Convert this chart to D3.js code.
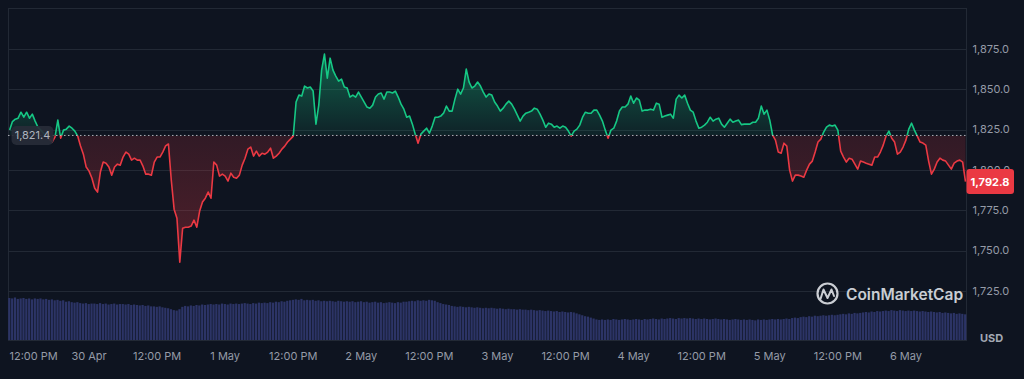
<!DOCTYPE html>
<html><head><meta charset="utf-8">
<script src="https://cdn.jsdelivr.net/npm/d3@7"></script>
<style>
html,body{margin:0;padding:0;background:#0e1420;overflow:hidden}
svg{display:block}
text{font-family:Inter,"Noto Sans",Roboto,sans-serif}
</style>
</head><body>
<svg id="c" width="1024" height="379"></svg>
<script>
// ---- data ----
const priceStart = "2023-04-29T10:00:00Z";
const stepMinutes = 30;
const baselineValue = 1821.4;
const prices = [
1824.7,1830.0,1831.5,1832.1,1835.8,1832.7,1835.8,1832.1,1834.6,1830.3,1826.5,1824.7,1822.8,1821.0,1819.1,1817.3,1820.4,1830.9,1819.7,1824.7,
1825.3,1827.2,1825.9,1824.1,1821.0,1814.8,1809.8,1801.8,1799.3,1795.0,1788.7,1786.3,1798.7,1804.9,1804.2,1801.8,1796.8,1801.8,1803.6,1803.0,
1808.0,1811.1,1809.8,1806.1,1807.3,1806.1,1806.1,1802.4,1797.4,1797.4,1796.8,1804.9,1808.0,1808.0,1811.1,1814.9,1816.1,1793.7,1775.7,1770.1,
1742.9,1763.9,1764.5,1764.5,1765.2,1768.9,1764.5,1774.5,1780.1,1782.5,1786.3,1782.5,1804.9,1803.0,1796.2,1797.4,1796.2,1793.1,1798.0,1795.5,
1794.9,1796.8,1803.0,1807.3,1812.9,1814.2,1808.6,1811.7,1808.6,1810.4,1809.8,1811.1,1813.5,1807.3,1808.6,1810.4,1812.9,1814.8,1817.3,1819.1,
1821.0,1842.1,1846.4,1845.8,1852.0,1850.8,1851.4,1849.0,1828.4,1840.2,1861.9,1871.8,1856.9,1869.3,1861.9,1858.2,1855.1,1856.3,1851.4,1850.8,
1845.2,1846.4,1845.2,1848.3,1845.2,1842.1,1839.0,1838.3,1840.2,1845.2,1847.1,1847.7,1843.9,1848.3,1848.3,1847.7,1848.9,1845.2,1840.8,1837.7,
1832.7,1833.4,1828.4,1822.2,1816.6,1822.2,1824.1,1825.9,1822.8,1827.2,1832.7,1832.7,1833.4,1835.2,1839.6,1836.5,1836.5,1843.9,1850.1,1847.0,
1850.8,1862.5,1854.5,1850.8,1852.0,1854.5,1852.0,1848.3,1845.2,1847.1,1846.4,1842.1,1839.6,1836.5,1838.3,1840.8,1842.7,1840.8,1837.7,1834.0,
1830.3,1833.4,1835.2,1835.8,1836.5,1838.3,1837.7,1834.6,1830.9,1826.5,1829.0,1828.4,1826.5,1827.2,1825.9,1827.2,1826.5,1824.1,1821.0,1824.1,
1825.3,1827.8,1832.7,1835.8,1835.2,1835.2,1837.1,1837.1,1834.0,1830.3,1824.7,1819.7,1824.7,1825.9,1830.3,1836.5,1839.0,1839.0,1840.8,1845.8,
1841.4,1844.6,1843.3,1836.5,1837.1,1837.1,1837.7,1837.1,1841.4,1840.8,1832.7,1833.4,1834.0,1834.6,1832.1,1843.9,1846.4,1844.6,1846.4,1841.4,
1837.1,1835.8,1830.3,1825.9,1826.5,1827.8,1829.6,1832.7,1830.3,1831.5,1832.1,1828.4,1826.5,1829.0,1831.5,1829.6,1830.3,1830.9,1828.1,1828.4,
1828.4,1828.4,1829.6,1829.6,1832.1,1839.6,1834.6,1837.1,1830.9,1821.6,1818.5,1811.1,1810.4,1816.6,1814.8,1799.9,1793.1,1796.8,1796.8,1796.2,
1795.5,1799.9,1803.6,1805.5,1811.1,1817.3,1819.1,1823.5,1826.5,1827.8,1827.2,1827.8,1824.7,1811.7,1808.0,1804.9,1807.3,1806.7,1803.6,1800.5,
1805.5,1804.9,1804.2,1803.6,1803.0,1808.0,1808.0,1811.1,1815.4,1821.0,1824.1,1819.7,1817.3,1809.8,1811.1,1814.2,1818.5,1825.3,1829.0,1824.7,
1821.0,1817.3,1816.7,1815.4,1805.5,1797.4,1800.5,1804.9,1807.3,1806.1,1805.5,1803.0,1800.5,1804.2,1805.5,1806.1,1804.9,1792.8
];
// volume (billions USD)
const volumes = [
9.0,8.9,9.1,8.8,8.9,9.0,8.8,8.9,8.7,8.9,8.8,8.9,8.7,8.8,8.6,8.7,8.5,8.6,8.4,8.5,
8.2,8.3,8.1,8.0,8.1,7.9,7.8,7.9,7.7,7.8,7.8,7.7,7.9,7.7,7.8,7.6,7.7,7.8,7.6,7.7,
7.7,7.6,7.7,7.5,7.6,7.5,7.4,7.5,7.3,7.4,7.2,7.2,7.1,7.2,7.0,6.9,6.8,6.6,6.4,6.3,
6.6,7.1,7.3,7.2,7.4,7.3,7.5,7.4,7.6,7.5,7.6,7.7,7.6,7.7,7.6,7.8,7.7,7.6,7.8,7.7,
7.8,7.7,7.8,7.9,7.8,7.7,7.9,7.8,8.0,7.9,8.0,7.9,8.1,8.0,8.2,8.1,8.3,8.2,8.4,8.5,
8.6,8.7,8.6,8.8,8.5,8.6,8.5,8.6,8.4,8.5,8.3,8.4,8.3,8.4,8.3,8.2,8.4,8.3,8.2,8.3,
8.2,8.3,8.1,8.2,8.3,8.1,8.2,8.0,8.1,8.2,8.0,8.1,7.9,8.0,8.1,8.0,7.9,8.1,8.0,8.2,
8.2,8.3,8.4,8.3,8.5,8.4,8.5,8.4,8.6,8.5,8.4,8.1,7.9,7.7,7.6,7.5,7.3,7.2,7.1,7.2,
7.1,7.0,7.1,7.0,6.9,7.0,6.9,6.8,6.9,6.8,6.9,6.8,6.7,6.8,6.7,6.6,6.7,6.6,6.6,6.5,
6.6,6.5,6.5,6.4,6.5,6.4,6.3,6.4,6.3,6.2,6.3,6.2,6.1,6.2,6.0,6.1,6.0,5.9,6.0,5.9,
5.7,5.5,5.3,5.1,5.0,4.8,4.6,4.4,4.3,4.4,4.3,4.4,4.3,4.5,4.4,4.3,4.4,4.5,4.4,4.3,
4.4,4.5,4.4,4.3,4.5,4.4,4.5,4.6,4.5,4.4,4.6,4.5,4.6,4.7,4.6,4.5,4.7,4.6,4.7,4.6,
4.7,4.6,4.5,4.6,4.5,4.6,4.5,4.4,4.5,4.6,4.5,4.4,4.5,4.4,4.3,4.4,4.5,4.4,4.3,4.4,
4.3,4.4,4.3,4.2,4.4,4.3,4.4,4.3,4.4,4.5,4.4,4.5,4.4,4.5,4.6,4.5,4.7,4.8,4.7,4.9,
5.0,4.9,5.1,5.0,5.2,5.1,5.2,5.3,5.2,5.3,5.4,5.3,5.4,5.5,5.6,5.5,5.7,5.6,5.8,5.7,
5.8,5.9,6.0,5.9,6.1,6.0,6.2,6.1,6.2,6.3,6.2,6.4,6.3,6.2,6.4,6.3,6.2,6.3,6.2,6.3,
6.2,6.1,6.2,6.1,6.0,6.1,6.0,5.9,6.0,5.8,5.9,5.8,5.7,5.8,5.6,5.7,5.6,5.5
];
const yTicks = [1725, 1750, 1775, 1800, 1825, 1850, 1875];
const xDomain = [new Date("2023-04-29T09:43:00Z"), new Date("2023-05-06T10:46:00Z")];
const yDomain = [1694.6, 1900.4];
const volDomain = [0, 10];
const currencyLabel = "USD";
const brandName = "CoinMarketCap";

// ---- layout ----
const W = 1024, H = 379;
const L = 8, R = 967, T = 8, B = 340;
const GREEN = "#16c784", RED = "#ea3943";
const AXIS = "#959ba7";

const svg = d3.select("#c");
svg.append("rect").attr("width", W).attr("height", H).attr("fill", "#0e1420");

const x = d3.scaleUtc().domain(xDomain).range([L, R]);
const y = d3.scaleLinear().domain(yDomain).range([B, T]);
const yv = d3.scaleLinear().domain(volDomain).range([B, B - 46.7]);

const t0 = new Date(priceStart).getTime();
const data = prices.map((p, i) => ({ t: new Date(t0 + i * stepMinutes * 60000), p, v: volumes[i] }));
const by = y(baselineValue);

const defs = svg.append("defs");
defs.append("clipPath").attr("id", "plot").append("rect")
  .attr("x", L).attr("y", T).attr("width", R - L).attr("height", B - T);
defs.append("clipPath").attr("id", "above").append("rect")
  .attr("x", L).attr("y", T).attr("width", R - L).attr("height", by - T);
defs.append("clipPath").attr("id", "below").append("rect")
  .attr("x", L).attr("y", by).attr("width", R - L).attr("height", B - by);

const pMax = d3.max(prices), pMin = d3.min(prices);
const gG = defs.append("linearGradient").attr("id", "gGreen")
  .attr("gradientUnits", "userSpaceOnUse").attr("x1", 0).attr("x2", 0)
  .attr("y1", y(pMax)).attr("y2", by);
gG.append("stop").attr("offset", 0).attr("stop-color", GREEN).attr("stop-opacity", 0.42);
gG.append("stop").attr("offset", 1).attr("stop-color", GREEN).attr("stop-opacity", 0.08);
const gR = defs.append("linearGradient").attr("id", "gRed")
  .attr("gradientUnits", "userSpaceOnUse").attr("x1", 0).attr("x2", 0)
  .attr("y1", by).attr("y2", y(pMin));
gR.append("stop").attr("offset", 0).attr("stop-color", RED).attr("stop-opacity", 0.16);
gR.append("stop").attr("offset", 1).attr("stop-color", RED).attr("stop-opacity", 0.30);

// grid
svg.append("g").selectAll("line").data(yTicks).join("line")
  .attr("x1", L).attr("x2", R)
  .attr("y1", d => Math.round(y(d)) + 0.5).attr("y2", d => Math.round(y(d)) + 0.5)
  .attr("stroke", "#222935").attr("stroke-width", 1);

// frame
svg.append("rect").attr("x", L + 0.5).attr("y", T + 0.5).attr("width", R - L - 1).attr("height", B - T)
  .attr("fill", "none").attr("stroke", "#222935");

// volume bars
const step = x(data[1].t) - x(data[0].t);
svg.append("g").attr("clip-path", "url(#plot)").selectAll("rect").data(data).join("rect")
  .attr("x", d => x(d.t) - step / 2)
  .attr("width", step * 0.78)
  .attr("y", d => yv(d.v))
  .attr("height", d => B - yv(d.v))
  .attr("fill", "#2c3466");

// areas
const area = d3.area().x(d => x(d.t)).y0(by).y1(d => y(d.p));
const line = d3.line().x(d => x(d.t)).y(d => y(d.p));
const pg = svg.append("g").attr("clip-path", "url(#plot)");
pg.append("path").datum(data).attr("d", area).attr("fill", "url(#gGreen)").attr("clip-path", "url(#above)");
pg.append("path").datum(data).attr("d", area).attr("fill", "url(#gRed)").attr("clip-path", "url(#below)");

// baseline dotted
svg.append("line").attr("x1", L).attr("x2", R).attr("y1", by).attr("y2", by)
  .attr("stroke", "#c9cdd4").attr("stroke-width", 1).attr("stroke-dasharray", "1.5,2.5").attr("opacity", 0.85);

// price line
pg.append("path").datum(data).attr("d", line).attr("fill", "none").attr("stroke", GREEN)
  .attr("stroke-width", 1.6).attr("stroke-linejoin", "round").attr("clip-path", "url(#above)");
pg.append("path").datum(data).attr("d", line).attr("fill", "none").attr("stroke", RED)
  .attr("stroke-width", 1.6).attr("stroke-linejoin", "round").attr("clip-path", "url(#below)");

// baseline label
const fmt = d3.format(",.1f");
svg.append("rect").attr("x", 11.5).attr("y", by - 9.5).attr("width", 42).attr("height", 19).attr("rx", 5)
  .attr("fill", "#272d38").attr("opacity", 0.92);
svg.append("text").attr("x", 32.5).attr("y", by).attr("dy", "0.35em").attr("text-anchor", "middle")
  .attr("font-size", 11).attr("fill", "#aeb4be").text(fmt(baselineValue));

// y axis labels
svg.append("g").selectAll("text").data(yTicks).join("text")
  .attr("x", 972.5).attr("y", d => y(d)).attr("dy", "0.35em")
  .attr("font-size", 11).attr("fill", AXIS).text(d => fmt(d));

// current price tag
const last = data[data.length - 1];
const ly = y(last.p);
svg.append("rect").attr("x", 966.5).attr("y", ly - 12.5).attr("width", 47.5).attr("height", 25).attr("rx", 3)
  .attr("fill", RED);
svg.append("text").attr("x", 990).attr("y", ly).attr("dy", "0.36em").attr("text-anchor", "middle")
  .attr("font-size", 11).attr("font-weight", 700).attr("fill", "#ffffff").text(fmt(last.p));

// x axis labels
const xTicks = x.ticks(d3.utcHour.every(12));
const fmtDay = d3.utcFormat("%-d %b"), fmtHour = d3.utcFormat("%-I:%M %p");
const xl = svg.append("g").selectAll("text").data(xTicks).join("text")
  .attr("x", d => x(d)).attr("y", 359.5).attr("text-anchor", "middle")
  .attr("font-size", 11).attr("fill", AXIS)
  .text(d => d.getUTCHours() === 0 ? fmtDay(d) : fmtHour(d));
xl.each(function (d) {
  const w = this.getComputedTextLength();
  const cx = x(d);
  if (cx - w / 2 < L + 1.5) d3.select(this).attr("text-anchor", "start").attr("x", L + 1.5);
});

// currency
svg.append("text").attr("x", 991.5).attr("y", 338).attr("dy", "0.35em").attr("text-anchor", "middle")
  .attr("font-size", 11).attr("font-weight", 700).attr("fill", "#a3a9b4").text(currencyLabel);

// watermark
const wm = svg.append("g").attr("opacity", 0.9);
wm.append("circle").attr("cx", 827.5).attr("cy", 293.5).attr("r", 10).attr("fill", "none")
  .attr("stroke", "#dfe2e7").attr("stroke-width", 2.2);
wm.append("path").attr("d", "M820.5,299 L823.5,289.5 L827.5,298 L831.5,289.5 L834,296")
  .attr("fill", "none").attr("stroke", "#dfe2e7").attr("stroke-width", 2).attr("stroke-linejoin", "round").attr("stroke-linecap", "round");
wm.append("text").attr("x", 846).attr("y", 294).attr("dy", "0.36em").attr("font-size", 15.5).attr("font-weight", 600)
  .attr("fill", "#dfe2e7").text(brandName);
</script>
</body></html>
